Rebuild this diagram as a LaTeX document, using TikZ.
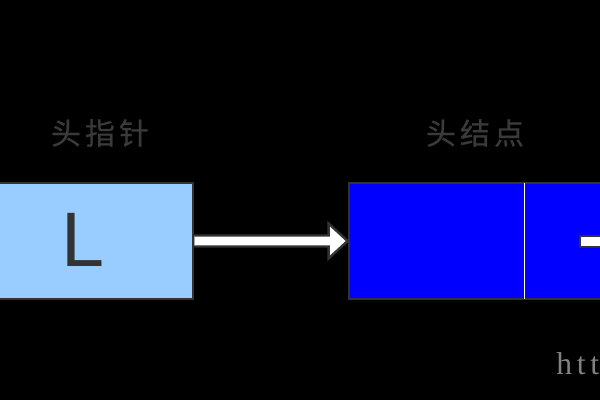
\documentclass[tikz,border=0pt]{standalone}
\usepackage{fontspec}
\setmainfont{Liberation Sans}
\newfontfamily\cjk[LetterSpace=14,FakeBold=0.6]{Noto Sans CJK SC}
\newfontfamily\wmfont[LetterSpace=15]{Liberation Serif}
\usetikzlibrary{calc}
\definecolor{lblue}{RGB}{153, 204, 255}
\definecolor{nodeblue}{RGB}{0, 0, 255}
\definecolor{dgray}{RGB}{51, 51, 51}
\definecolor{tgray}{RGB}{58, 58, 58}
\definecolor{wgray}{RGB}{130, 130, 130}
\definecolor{lyellow}{RGB}{255, 255, 204}

\begin{document}
\begin{tikzpicture}[
		box/.style = {draw = dgray, line width = 1.6pt, minimum height = 2.32cm, inner sep = 0},
		arrowbody/.style = {fill = white, draw = dgray, line width = 1.4pt, line join = miter},
		title/.style = {text = tgray, font = \cjk\fontsize{17}{17}\selectfont}]
			\fill[black] (0,0) rectangle (12,8);
			\useasboundingbox (0,0) rectangle (12,8);
			\clip (0,0) rectangle (12,8);
			\node (ptr) at (1.805,3.18) [box, fill = lblue, minimum width = 4.11cm] {};
			\node (head) at (9.79,3.18) [box, fill = nodeblue, minimum width = 5.62cm] {};
			\node (lname) at (1.66,3.2) [text = dgray, font = \fontsize{44}{44}\selectfont] {L};
			\node (ptrtitle) at (2.0,5.34) [title] {头指针};
			\node (headtitle) at (9.5,5.34) [title] {头结点};
			\coordinate (nxt) at (11.6,3.17);
			\coordinate (off) at (12.4,3.17);
			\draw[lyellow, line width = 0.5pt] ($(head.north west)+(3.53,-0.03)$) -- ($(head.south west)+(3.53,0.03)$);
			\draw[arrowbody] ($(ptr.east)+(0,0.11)$) -- ($(head.west)+(-0.38,0.11)$) -- ($(head.west)+(-0.38,0.35)$) -- (head.west) -- ($(head.west)+(-0.38,-0.35)$) -- ($(head.west)+(-0.38,-0.11)$) -- ($(ptr.east)+(0,-0.11)$);
			\draw[arrowbody] ($(off)+(0,0.11)$) -- ($(nxt)+(0,0.11)$) -- ($(nxt)+(0,-0.11)$) -- ($(off)+(0,-0.11)$);
			\node (mark) at (11.12,0.5) [anchor = base west, inner sep = 0, text = wgray, font = \wmfont\fontsize{18}{18}\selectfont] {htt};
			\end{tikzpicture}
\end{document}
